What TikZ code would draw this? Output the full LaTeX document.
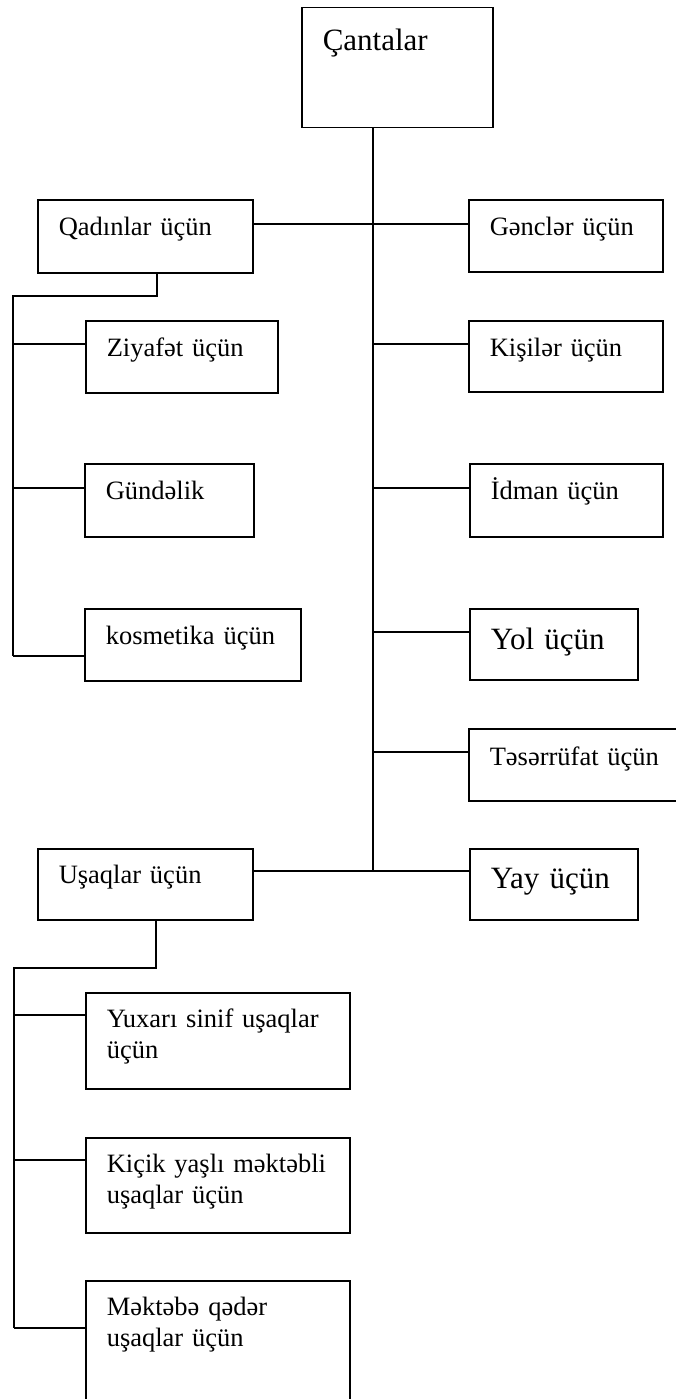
\documentclass[tikz,border=0pt]{standalone}
\usepackage{fontspec}
\setmainfont{Liberation Serif}
\newcommand{\txtsize}{\fontsize{26.5}{31}\selectfont}
\newcommand{\bigsize}{\fontsize{31}{36}\selectfont}

\begin{document}
\begin{tikzpicture}[x=1pt,y=-1pt,
        box/.style={draw, line width=1.5pt, anchor=north west, inner xsep=21pt, inner ysep=0pt,
            align=left, font=\txtsize, text height=36pt},
        bigbox/.style={box, font=\bigsize, text height=42pt},
        link/.style={line width=1.5pt}]

    \useasboundingbox (0,0) rectangle (676,1399);
    \clip (0,0) rectangle (676,1399);

    % top box
    \node[bigbox, text width=149pt, text height=43pt, text depth=77pt] (cant) at (301,7) {Çantalar};

    % right column
    \node[box, text width=152pt, text depth=36pt] (gen) at (468,199) {Gənclər üçün};
    \node[box, text width=152pt, text depth=35pt] (kis) at (468,320) {Kişilər üçün};
    \node[box, text width=151pt, text depth=37pt] (idm) at (469,463) {İdman üçün};
    \node[bigbox, text width=126pt, text height=41pt, text depth=30pt] (yol) at (469,608) {Yol üçün};
    \node[box, text width=188pt, text height=37pt, text depth=35pt] (tes) at (468,728) {Təsərrüfat üçün};
    \node[bigbox, text width=126pt, text height=40pt, text depth=31pt] (yay) at (469,848) {Yay üçün};

    % women
    \node[box, text width=173pt, text depth=37pt] (qad) at (37,199) {Qadınlar üçün};
    \node[box, text width=150pt, text depth=36pt] (zi) at (85,320) {Ziyafət üçün};
    \node[box, text width=127pt, text depth=37pt] (gun) at (84,463) {Gündəlik};
    \node[box, text width=174pt, text depth=36pt] (kos) at (84,608) {kosmetika üçün};

    % children
    \node[box, text width=173pt, text height=35pt, text depth=36pt] (usa) at (37,848) {Uşaqlar üçün};
    \node[box, text width=222pt, text height=35pt, text depth=61pt] (yux) at (85,992) {Yuxarı sinif uşaqlar\\üçün};
    \node[box, text width=222pt, text height=35pt, text depth=60pt] (kic) at (85,1137) {Kiçik yaşlı məktəbli\\uşaqlar üçün};
    \node[box, text width=222pt, text height=35pt, text depth=105pt] (mek) at (85,1280) {Məktəbə qədər\\uşaqlar üçün};

    % trunk
    \coordinate (t1) at (373,224);
    \coordinate (t2) at (373,344);
    \coordinate (t3) at (373,488);
    \coordinate (t4) at (373,632);
    \coordinate (t5) at (373,752);
    \coordinate (tb) at (373,871);
    \draw[link] (cant.south -| tb) -- (tb);
    \draw[link] (qad.east |- t1) -- (gen.west |- t1);
    \draw[link] (t2) -- (kis.west |- t2);
    \draw[link] (t3) -- (idm.west |- t3);
    \draw[link] (t4) -- (yol.west |- t4);
    \draw[link] (t5) -- (tes.west |- t5);
    \draw[link] (usa.east |- tb) -- (yay.west |- tb);

    % women branch
    \coordinate (qs) at (157,296);
    \coordinate (qb) at (13,296);
    \coordinate (q1) at (13,344);
    \coordinate (q2) at (13,488);
    \coordinate (q3) at (13,656);
    \draw[link] (qad.south -| qs) -- (qs) -- (qb) -- (q3);
    \draw[link] (q1) -- (zi.west |- q1);
    \draw[link] (q2) -- (gun.west |- q2);
    \draw[link] (q3) -- (kos.west |- q3);

    % children branch
    \coordinate (us) at (156,968);
    \coordinate (ub) at (14,968);
    \coordinate (u1) at (14,1015);
    \coordinate (u2) at (14,1160);
    \coordinate (u3) at (14,1328);
    \draw[link] (usa.south -| us) -- (us) -- (ub) -- (u3);
    \draw[link] (u1) -- (yux.west |- u1);
    \draw[link] (u2) -- (kic.west |- u2);
    \draw[link] (u3) -- (mek.west |- u3);

\end{tikzpicture}
\end{document}
